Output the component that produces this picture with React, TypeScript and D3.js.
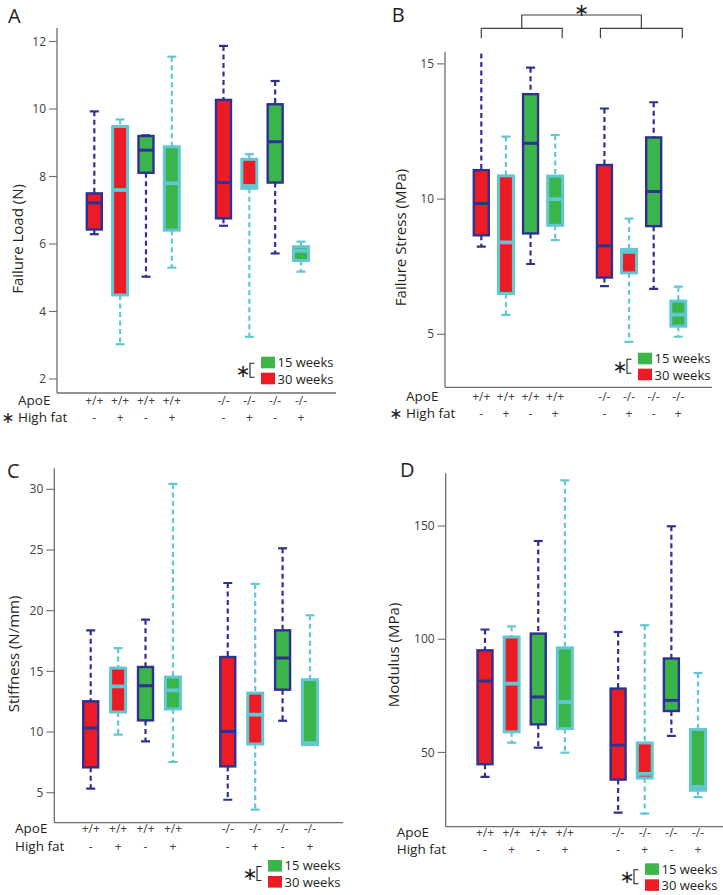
import React from "react";
import * as d3 from "d3";

// groups, left to right in every panel
const apoe = ["+/+", "+/+", "+/+", "+/+", "-/-", "-/-", "-/-", "-/-"];
const highFat = ["-", "+", "-", "+", "-", "+", "-", "+"];
const ageWeeks = [30, 30, 15, 15, 30, 30, 15, 15];

// A: failure load (N)
const loadHigh = [9.93, 9.69, 9.22, 11.55, 11.87, 8.66, 10.83, 6.07];
const loadQ3 = [7.5, 9.48, 9.2, 8.88, 10.27, 8.51, 10.14, 5.92];
const loadMed = [7.22, 7.6, 8.78, 7.8, 7.82, 7.72, 9.03, 5.8];
const loadQ1 = [6.43, 4.49, 8.11, 6.41, 6.76, 7.65, 7.82, 5.51];
const loadLow = [6.29, 3.03, 5.03, 5.3, 6.54, 3.25, 5.72, 5.18];
const loadTicks = [2, 4, 6, 8, 10, 12];

// B: failure stress (MPa)
const stressHigh = [15.7, 12.31, 14.86, 12.37, 13.35, 9.28, 13.58, 6.76];
const stressQ3 = [11.07, 10.86, 13.88, 10.85, 11.26, 8.14, 12.28, 6.23];
const stressMed = [9.84, 8.4, 12.06, 10.0, 8.27, 8.05, 10.28, 5.73];
const stressQ1 = [8.66, 6.51, 8.73, 9.03, 7.1, 7.27, 9.0, 5.3];
const stressLow = [8.24, 5.72, 7.6, 8.48, 6.78, 4.72, 6.68, 4.91];
const stressTicks = [5, 10, 15];

// C: stiffness (N/mm)
const stiffHigh = [18.38, 16.92, 19.26, 30.44, 22.28, 22.2, 25.14, 19.62];
const stiffQ3 = [12.53, 15.27, 15.36, 14.53, 16.18, 13.21, 18.38, 14.31];
const stiffMed = [10.33, 13.76, 13.82, 13.43, 10.05, 11.43, 16.1, 9.09];
const stiffQ1 = [7.09, 11.65, 10.96, 11.9, 7.17, 9.01, 13.49, 8.96];
const stiffLow = [5.33, 9.78, 9.23, 7.53, 4.42, 3.6, 10.93, 8.96];
const stiffTicks = [5, 10, 15, 20, 25, 30];

// D: modulus (MPa)
const modHigh = [104.3, 105.7, 143.4, 170.2, 103.2, 106.2, 149.9, 85.1];
const modQ3 = [95.1, 101, 102.5, 96.2, 78.2, 54.2, 91.5, 60.1];
const modMed = [81.6, 80.4, 74.5, 72.3, 53.2, 40.5, 73.0, 34.8];
const modQ1 = [44.8, 59.1, 62.4, 60.5, 38.0, 38.7, 68.3, 33.3];
const modLow = [39.2, 54.3, 52.1, 49.9, 23.4, 23.0, 57.3, 30.3];
const modTicks = [50, 100, 150];

const legendLabels = ["15 weeks", "30 weeks"];

const RED = "#ec1c24";
const GREEN = "#3ab54a";
const NAVY = "#2e3192";
const CYAN = "#63c7d3";
const AXIS = "#6d6e71";
const INK = "#231f20";
const FONT = "'Open Sans', 'Noto Sans', sans-serif";

const fillFor = d3.scaleOrdinal<number, string>().domain([30, 15]).range([RED, GREEN]);
const edgeFor = d3.scaleOrdinal<string, string>().domain(["-", "+"]).range([NAVY, CYAN]);

// the -/- group sits one slot further right
const slotOf = (i: number) => i + (apoe[i] === "-/-" ? 1 : 0);

function Panel({ cfg, high, q3, med, q1, low, ticks }) {
  const y = d3.scaleLinear().domain(cfg.yDomain).range([cfg.bottom, cfg.top]);
  const x = d3.scaleLinear().domain([0, 8]).range(cfg.xRange);
  const bw = 15;
  const cap = 9;
  const clipId = "clip" + cfg.letter;
  const [gx, gy] = cfg.legend;

  return (
    <g fontFamily={FONT}>
      <defs>
        <clipPath id={clipId}>
          <rect x={cfg.axisX} y={cfg.top} width={cfg.xEnd - cfg.axisX} height={cfg.bottom - cfg.top} />
        </clipPath>
      </defs>
      <text x={cfg.letterPos[0]} y={cfg.letterPos[1]} fontSize={20} fill={INK}>{cfg.letter}</text>

      {/* axes */}
      <line x1={cfg.axisX} x2={cfg.axisX} y1={cfg.top} y2={cfg.bottom} stroke={AXIS} strokeWidth={1.3} />
      <line x1={cfg.axisX} x2={cfg.xEnd} y1={cfg.bottom} y2={cfg.bottom} stroke={AXIS} strokeWidth={1.3} />
      {ticks.map((t) => (
        <g key={t}>
          <line x1={cfg.axisX - 8} x2={cfg.axisX} y1={y(t)} y2={y(t)} stroke={AXIS} strokeWidth={1.1} />
          <text x={cfg.axisX - 11} y={y(t)} dy="0.35em" textAnchor="end" fontSize={12} fill="#414042">{t}</text>
        </g>
      ))}
      <text transform={`translate(${cfg.titlePos[0]},${cfg.titlePos[1]}) rotate(-90)`} textAnchor="middle"
        dominantBaseline="central" fontSize={15} fill={INK}>{cfg.title}</text>

      {/* boxes */}
      <g clipPath={`url(#${clipId})`}>
        {apoe.map((_, i) => {
          const cx = x(slotOf(i));
          const edge = edgeFor(highFat[i]);
          const sw = highFat[i] === "+" ? 3 : 2.4;
          return (
            <g key={i}>
              <line x1={cx} x2={cx} y1={y(high[i])} y2={y(q3[i])} stroke={edge} strokeWidth={2.2} strokeDasharray="5,3.5" />
              <line x1={cx} x2={cx} y1={y(q1[i])} y2={y(low[i])} stroke={edge} strokeWidth={2.2} strokeDasharray="5,3.5" />
              <line x1={cx - cap / 2} x2={cx + cap / 2} y1={y(high[i])} y2={y(high[i])} stroke={edge} strokeWidth={2.2} />
              <line x1={cx - cap / 2} x2={cx + cap / 2} y1={y(low[i])} y2={y(low[i])} stroke={edge} strokeWidth={2.2} />
              <rect x={cx - bw / 2} y={y(q3[i])} width={bw} height={y(q1[i]) - y(q3[i])}
                fill={fillFor(ageWeeks[i])} stroke={edge} strokeWidth={sw} />
              <line x1={cx - bw / 2} x2={cx + bw / 2} y1={y(med[i])} y2={y(med[i])} stroke={edge}
                strokeWidth={highFat[i] === "+" ? 3.8 : 3} />
            </g>
          );
        })}
      </g>

      {/* category rows */}
      <text x={cfg.labelX} y={cfg.apoeY} fontSize={13.5} fill={INK}>ApoE</text>
      {cfg.fatStar && (
        <text x={cfg.labelX - 10} y={cfg.fatY + 1} fontSize={16} textAnchor="middle" fill={INK}
          fontFamily="'DejaVu Sans', sans-serif">∗</text>
      )}
      <text x={cfg.labelX} y={cfg.fatY} fontSize={13.5} fill={INK}>High fat</text>
      {apoe.map((a, i) => (
        <g key={"l" + i}>
          <text x={x(slotOf(i))} y={cfg.apoeY} textAnchor="middle" fontSize={12} fill="#414042">{a}</text>
          <text x={x(slotOf(i))} y={cfg.fatY} textAnchor="middle" fontSize={12} fill="#414042">{highFat[i]}</text>
        </g>
      ))}

      {/* legend */}
      <text x={gx - 18} y={gy + 13.5} dominantBaseline="central" textAnchor="middle" fontSize={18} fill={INK}
        fontFamily="'DejaVu Sans', sans-serif">∗</text>
      <path d={`M${gx - 6.5},${gy + 6.5}H${gx - 11}V${gy + 20.5}H${gx - 6.5}`} fill="none" stroke={INK} strokeWidth={1.1} />
      <rect x={gx} y={gy} width={14} height={11.6} fill={GREEN} />
      <rect x={gx} y={gy + 16} width={14} height={11.6} fill={RED} />
      <text x={gx + 16.5} y={gy + 10.3} fontSize={13} fill={INK}>{legendLabels[0]}</text>
      <text x={gx + 16.5} y={gy + 27} fontSize={13} fill={INK}>{legendLabels[1]}</text>

      {cfg.bracket && (() => {
        const l0 = x(0), l1 = x(3) + 7, r0 = x(5) - 4, r1 = x(8) + 4;
        const lm = (l0 + l1) / 2, rm = (r0 + r1) / 2;
        return (
          <g stroke="#414042" strokeWidth={1.2} fill="none">
            <path d={`M${l0},38.3V28.3H${l1}V38.3`} />
            <path d={`M${r0},38.3V28.3H${r1}V38.3`} />
            <path d={`M${lm},28.3V15H${rm}V28.3`} />
            <text x={(lm + rm) / 2} y={9} textAnchor="middle" dominantBaseline="central" fontSize={18}
              stroke="none" fill={INK} fontFamily="'DejaVu Sans', sans-serif">∗</text>
          </g>
        );
      })()}
    </g>
  );
}

const panelA = { letter: "A", letterPos: [8, 22.5], axisX: 57, xEnd: 336, top: 28, bottom: 393, yDomain: [1.585, 12.4],
  xRange: [94.3, 301], title: "Failure Load (N)", titlePos: [16.7, 239], labelX: 18, apoeY: 405, fatY: 421.5, fatStar: true,
  legend: [261, 356.7] };
const panelB = { letter: "B", letterPos: [391.7, 22], axisX: 445, xEnd: 712, top: 51.7, bottom: 387.3, yDomain: [3.04, 15.45],
  xRange: [481.3, 678.3], title: "Failure Stress (MPa)", titlePos: [400, 237.5], labelX: 406, apoeY: 401, fatY: 417.5,
  fatStar: true, legend: [638, 352.7], bracket: true };
const panelC = { letter: "C", letterPos: [7, 478.3], axisX: 54.3, xEnd: 343, top: 468.3, bottom: 822.7, yDomain: [2.53, 31.73],
  xRange: [90.7, 310], title: "Stiffness (N/mm)", titlePos: [13.3, 654], labelX: 15, apoeY: 833, fatY: 850.7,
  legend: [268, 860] };
const panelD = { letter: "D", letterPos: [400, 477.3], axisX: 445.7, xEnd: 723, top: 473.3, bottom: 826.7, yDomain: [17.2, 173.3],
  xRange: [485, 698], title: "Modulus (MPa)", titlePos: [393.3, 655], labelX: 396.7, apoeY: 836.7, fatY: 854,
  legend: [645, 863.3] };

export default function App() {
  return (
    <svg width={723} height={895} style={{ position: "absolute", left: 0, top: 0, background: "#fff" }}>
      <rect width={723} height={895} fill="#fff" />
      <Panel cfg={panelA} high={loadHigh} q3={loadQ3} med={loadMed} q1={loadQ1} low={loadLow} ticks={loadTicks} />
      <Panel cfg={panelB} high={stressHigh} q3={stressQ3} med={stressMed} q1={stressQ1} low={stressLow} ticks={stressTicks} />
      <Panel cfg={panelC} high={stiffHigh} q3={stiffQ3} med={stiffMed} q1={stiffQ1} low={stiffLow} ticks={stiffTicks} />
      <Panel cfg={panelD} high={modHigh} q3={modQ3} med={modMed} q1={modQ1} low={modLow} ticks={modTicks} />
    </svg>
  );
}
